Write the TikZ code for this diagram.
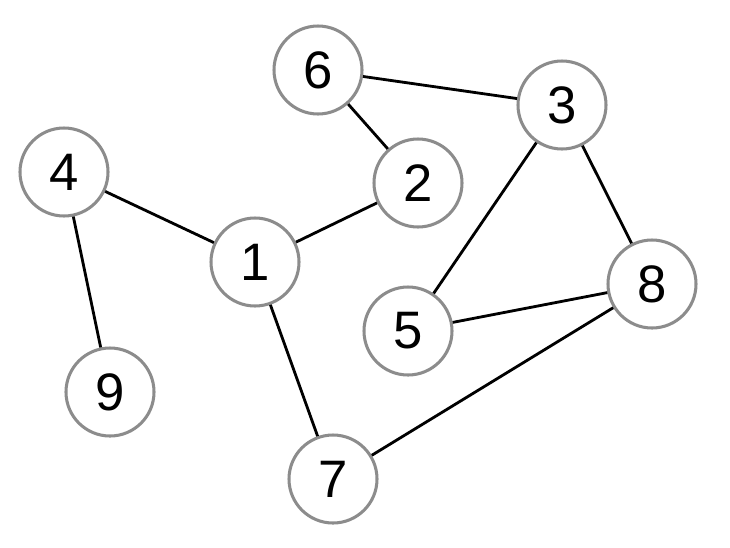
\documentclass[tikz,border=0pt]{standalone}
\usepackage{fontspec}
\setmainfont{Liberation Sans}

\def\nodeSize{2.64cm}
\def\unitLen{0.03cm}

\tikzset{
  vertex/.style={circle,draw=gray!90,line width=2.6pt,minimum size=\nodeSize,inner sep=0pt,
    font=\fontsize{45}{50}\selectfont},
  link/.style={line width=2.4pt}
}

\begin{document}
\begin{tikzpicture}[x=\unitLen,y=-\unitLen]
    \useasboundingbox (0,0) rectangle (730,547);

    \foreach \i/\x/\y in {1/255/262,2/418/183,3/562/105,4/64/172,5/408/331,6/318/70,7/333/479,8/652/284,9/110/392} {
      \node[vertex] (v\i) at (\x,\y) {\i};
    }
    \foreach \a/\b in {6/3,6/2,2/1,4/1,4/9,1/7,3/5,3/8,5/8,7/8} {
      \draw[link] (v\a) -- (v\b);
    }
  \end{tikzpicture}
\end{document}
